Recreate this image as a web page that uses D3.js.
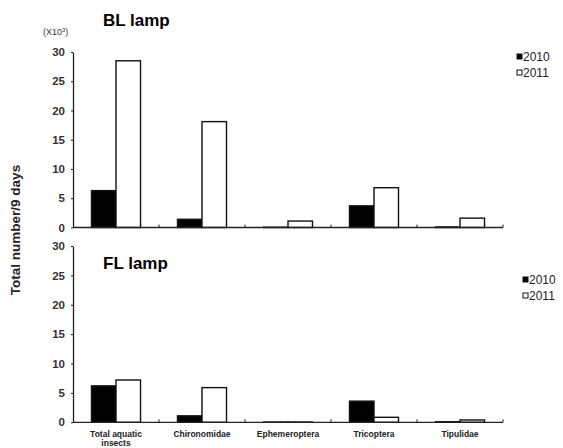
<!DOCTYPE html>
<html>
<head>
<meta charset="utf-8">
<script src="https://cdn.jsdelivr.net/npm/d3@7"></script>
<style>
  body { margin: 0; background: #fff; }
  svg { font-family: "Liberation Sans", Arial, sans-serif; }
</style>
</head>
<body>
<div id="chart"></div>
<script>
// data (x10^3 individuals)
let categories = ["Total aquatic insects", "Chironomidae", "Ephemeroptera", "Tricoptera", "Tipulidae"];
let years = ["2010", "2011"];
let bl2010 = [6.3, 1.4, 0.05, 3.7, 0.1];
let bl2011 = [28.5, 18.1, 1.1, 6.8, 1.6];
let fl2010 = [6.2, 1.1, 0.05, 3.6, 0.1];
let fl2011 = [7.2, 5.9, 0.05, 0.85, 0.4];
let yTicks = [0, 5, 10, 15, 20, 25, 30];

let width = 563, height = 448;

let svg = d3.select("#chart")
    .append("svg")
    .attr("width", width)
    .attr("height", height);

let x = d3.scaleBand()
    .domain(categories)
    .range([73, 503])
    .paddingInner(0.43)
    .paddingOuter(0.215);

let xYear = d3.scaleBand()
    .domain(years)
    .range([0, x.bandwidth()]);

let fills = { "2010": "#000", "2011": "#fff" };

function drawPanel(top, bottom, v2010, v2011, title, titleY, legendY, legendX, showLabels) {
    let y = d3.scaleLinear().domain([0, 30]).range([bottom, top]);
    let g = svg.append("g");

    // y axis
    g.append("g")
        .attr("transform", "translate(73,0)")
        .call(d3.axisLeft(y).tickValues(yTicks).tickSize(2).tickSizeOuter(0))
        .call(a => a.select(".domain").attr("stroke", "#222").attr("stroke-width", 1.3))
        .call(a => a.selectAll(".tick line").attr("stroke", "#222"))
        .call(a => a.selectAll("text")
            .attr("x", -8)
            .style("font-size", "11.5px")
            .style("font-weight", "bold")
            .attr("fill", "#333"));

    // bars
    let rows = categories.map((c, i) => ({ cat: c, vals: [v2010[i], v2011[i]] }));
    g.selectAll(".grp").data(rows).enter()
        .append("g")
        .attr("transform", d => `translate(${x(d.cat)},0)`)
        .selectAll("rect")
        .data(d => d.vals.map((v, j) => ({ year: years[j], value: v })))
        .enter()
        .append("rect")
        .attr("x", d => xYear(d.year))
        .attr("width", xYear.bandwidth())
        .attr("y", d => y(d.value))
        .attr("height", d => bottom - y(d.value))
        .attr("fill", d => fills[d.year])
        .attr("stroke", "#111")
        .attr("stroke-width", 1.4);

    // x axis line + category separator ticks
    g.append("line")
        .attr("x1", 73).attr("x2", 503)
        .attr("y1", bottom).attr("y2", bottom)
        .attr("stroke", "#222").attr("stroke-width", 1.3);
    g.selectAll(".sep").data(categories).enter()
        .append("line")
        .attr("x1", d => x(d) + x.bandwidth() + x.step() * 0.43 / 2)
        .attr("x2", d => x(d) + x.bandwidth() + x.step() * 0.43 / 2)
        .attr("y1", bottom).attr("y2", bottom - 3)
        .attr("stroke", "#222").attr("stroke-width", 1);

    // title
    g.append("text")
        .attr("x", 103).attr("y", titleY)
        .style("font-size", "17px")
        .style("font-weight", "bold")
        .text(title);

    // legend
    let leg = g.selectAll(".leg").data(years).enter()
        .append("g")
        .attr("transform", (d, i) => `translate(${legendX},${legendY + i * 16})`);
    leg.append("rect")
        .attr("x", 0).attr("y", -3)
        .attr("width", 5).attr("height", 5)
        .attr("fill", d => fills[d])
        .attr("stroke", "#111").attr("stroke-width", 1);
    leg.append("text")
        .attr("x", 6).attr("y", 4)
        .style("font-size", "12px")
        .attr("fill", "#222")
        .text(d => d);

    if (showLabels) {
        g.selectAll(".lab").data(categories).enter()
            .append("text")
            .attr("x", d => x(d) + x.bandwidth() / 2)
            .attr("y", bottom + 15)
            .attr("text-anchor", "middle")
            .style("font-size", "8.5px")
            .style("font-weight", "bold")
            .attr("fill", "#222")
            .each(function(d) {
                let words = d === "Total aquatic insects" ? ["Total aquatic", "insects"] : [d];
                d3.select(this).selectAll("tspan").data(words).enter()
                    .append("tspan")
                    .attr("x", x(d) + x.bandwidth() / 2)
                    .attr("dy", (w, i) => i === 0 ? 0 : "1.05em")
                    .text(w => w);
            });
    }
}

drawPanel(52, 227.5, bl2010, bl2011, "BL lamp", 26, 57, 517, false);
drawPanel(246, 422.3, fl2010, fl2011, "FL lamp", 269, 280, 523, true);

// unit label
svg.append("text")
    .attr("x", 43).attr("y", 35)
    .style("font-size", "9px")
    .attr("fill", "#333")
    .text("(X10")
    .append("tspan").attr("dy", -3).style("font-size", "6px").text("3")
    .select(function() { return this.parentNode; })
    .append("tspan").attr("dy", 3).text(")");

// y axis title
svg.append("text")
    .attr("transform", "translate(20,230) rotate(-90)")
    .attr("text-anchor", "middle")
    .style("font-size", "13.5px")
    .style("font-weight", "bold")
    .attr("fill", "#222")
    .text("Total number/9 days");
</script>
</body>
</html>
